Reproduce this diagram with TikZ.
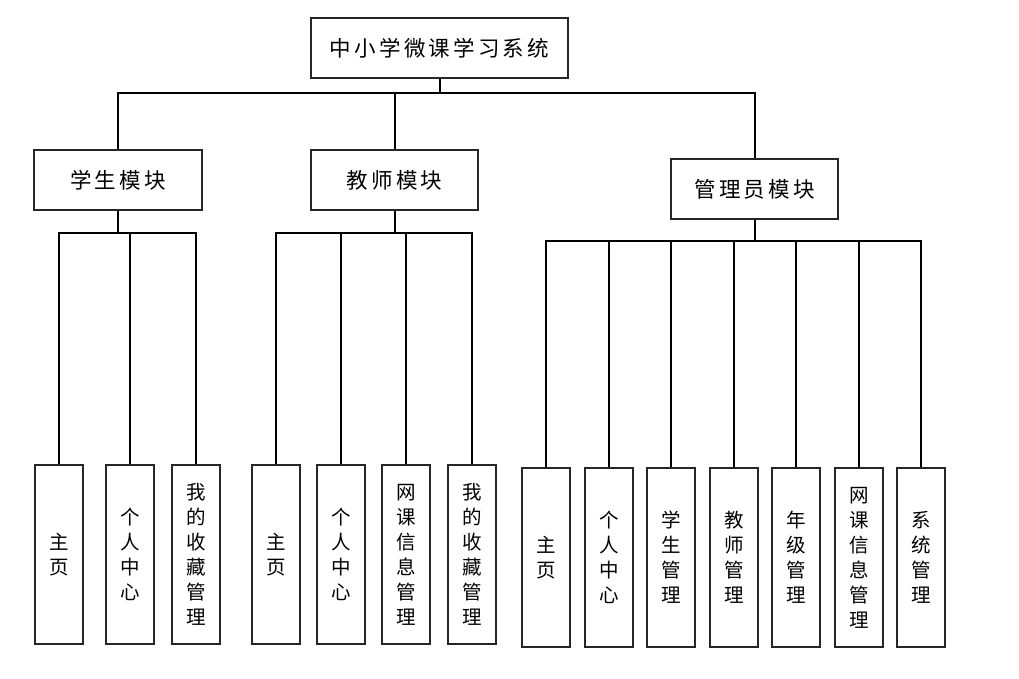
\documentclass[tikz,border=0pt]{standalone}
\usepackage{fontspec}
\newfontfamily\cjk{Noto Sans CJK SC}
\newfontfamily\cjkwide[LetterSpace=15]{Noto Sans CJK SC}
\begin{document}
\begin{tikzpicture}[x=1pt,y=-1pt,
  box/.style={draw=black!85,line width=1.5pt,fill=white,inner sep=0pt},
  headbox/.style={box,minimum height=60pt,font=\cjkwide\fontsize{21.5}{24}\selectfont},
  leaf/.style={box,minimum width=48pt,minimum height=179pt,align=center,font=\cjk\fontsize{19.5}{25}\selectfont},
  conn/.style={draw=black,line width=2pt}]
\useasboundingbox (0,0) rectangle (1019,679);
\node[headbox,minimum width=257pt] (root) at (439.5,48) {中小学微课学习系统\hspace{-3pt}};
\node[headbox,minimum width=168pt] (stu) at (118,180) {学生模块\hspace{-3pt}};
\node[headbox,minimum width=167pt] (tea) at (394.5,180) {教师模块\hspace{-3pt}};
\node[headbox,minimum width=167pt] (adm) at (754.5,189) {管理员模块\hspace{-3pt}};
% student leaves
\node[leaf] (s1) at (59,554.5) {主\\页};
\node[leaf] (s2) at (130,554.5) {个\\人\\中\\心};
\node[leaf] (s3) at (196,554.5) {我\\的\\收\\藏\\管\\理};
% teacher leaves
\node[leaf] (t1) at (276,554.5) {主\\页};
\node[leaf] (t2) at (341,554.5) {个\\人\\中\\心};
\node[leaf] (t3) at (406,554.5) {网\\课\\信\\息\\管\\理};
\node[leaf] (t4) at (472,554.5) {我\\的\\收\\藏\\管\\理};
% admin leaves
\node[leaf] (a1) at (546,557.5) {主\\页};
\node[leaf] (a2) at (609,557.5) {个\\人\\中\\心};
\node[leaf] (a3) at (671,557.5) {学\\生\\管\\理};
\node[leaf] (a4) at (734,557.5) {教\\师\\管\\理};
\node[leaf] (a5) at (796,557.5) {年\\级\\管\\理};
\node[leaf] (a6) at (859,557.5) {网\\课\\信\\息\\管\\理};
\node[leaf] (a7) at (921,557.5) {系\\统\\管\\理};
% connectors
\foreach \m in {stu,tea,adm}
  \draw[conn] (root.south) -- ++(0,14) -| (\m.north);
\foreach \l in {s1,s2,s3}
  \draw[conn] (stu.south) -- ++(0,22) -| (\l.north);
\foreach \l in {t1,t2,t3,t4}
  \draw[conn] (tea.south) -- ++(0,22) -| (\l.north);
\foreach \l in {a1,a2,a3,a4,a5,a6,a7}
  \draw[conn] (adm.south) -- ++(0,21) -| (\l.north);
\end{tikzpicture}
\end{document}
